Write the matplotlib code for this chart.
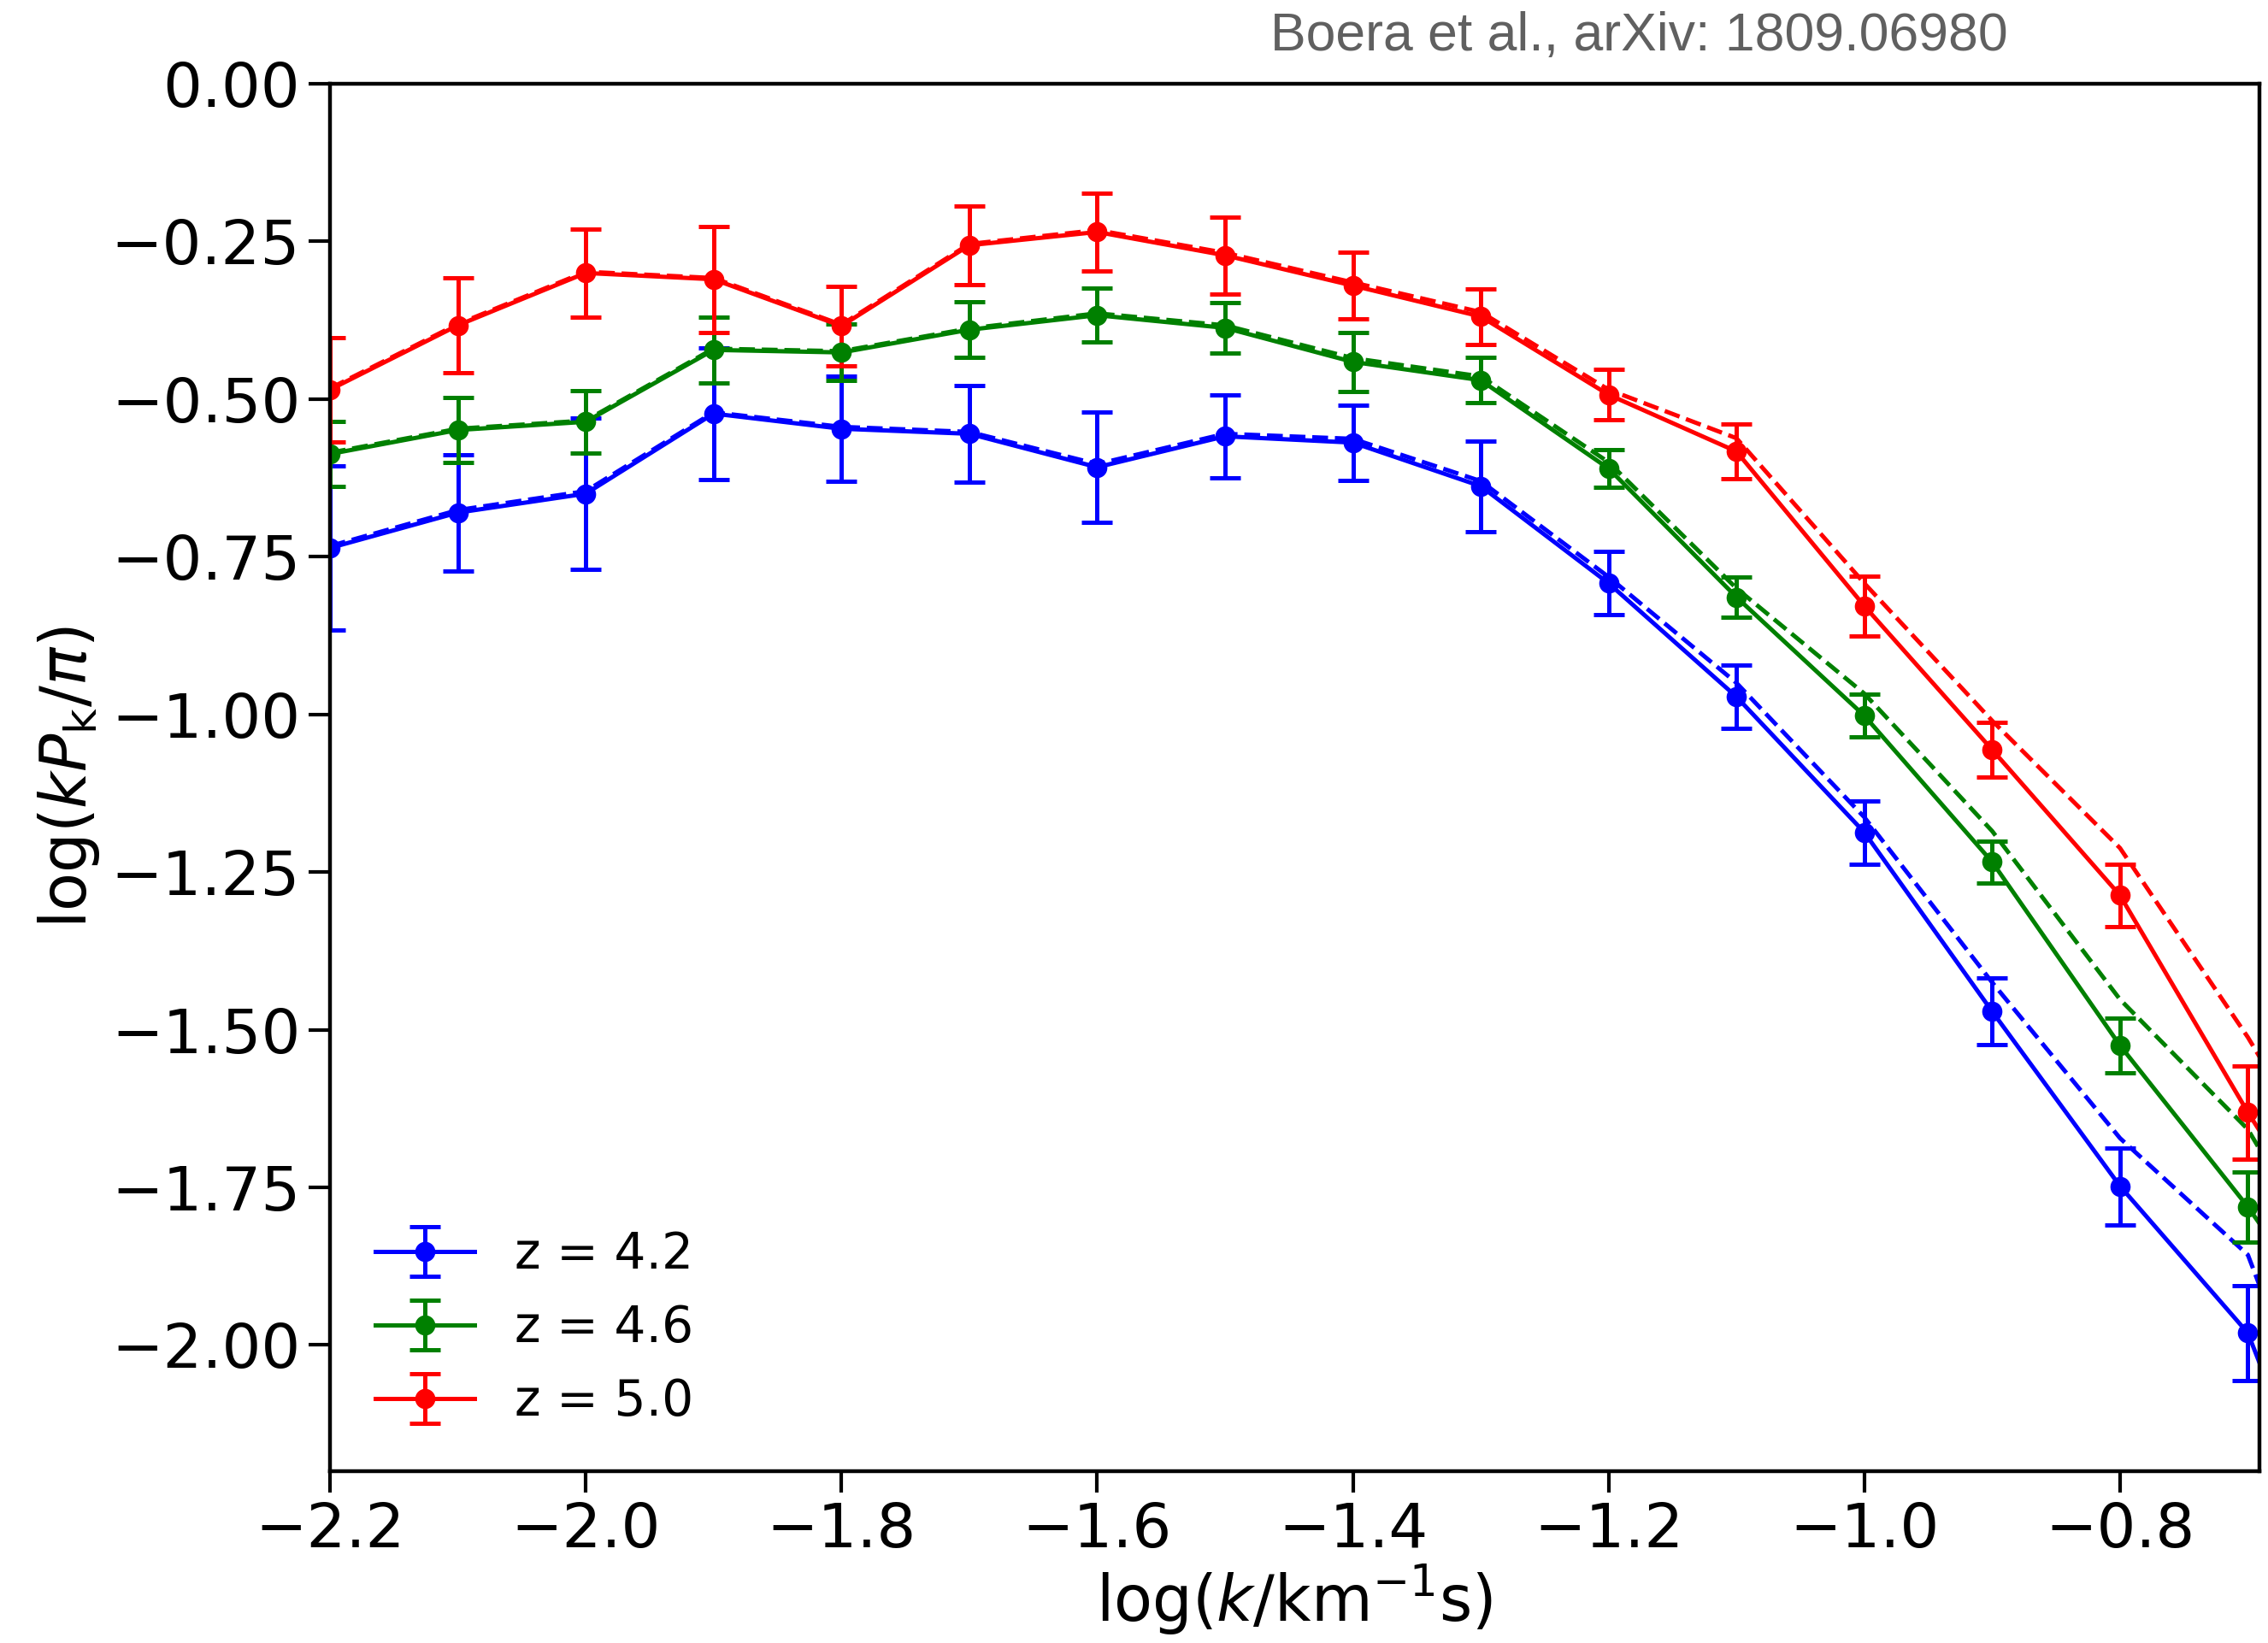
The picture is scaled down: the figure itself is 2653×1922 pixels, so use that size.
"""
Flux power spectrum of the Lyman-alpha forest at three redshifts,
measurements with error bars plus the model curves (dashed).
"""

import matplotlib
matplotlib.use('Agg')
import matplotlib.pyplot as plt
from matplotlib.ticker import FuncFormatter
import numpy as np

# log(k / km^-1 s) bins
log_k = [-2.2, -2.1, -2.0, -1.9, -1.8, -1.7, -1.6, -1.5, -1.4, -1.3,
         -1.2, -1.1, -1.0, -0.9, -0.8, -0.7, -0.6]

# measured log(k P_k / pi)
pk_z42 = [-0.736, -0.680, -0.650, -0.523, -0.547, -0.555, -0.608, -0.559, -0.569, -0.638,
          -0.792, -0.972, -1.187, -1.471, -1.748, -1.981, -2.50]
pk_z46 = [-0.587, -0.549, -0.536, -0.422, -0.426, -0.390, -0.367, -0.387, -0.441, -0.470,
          -0.610, -0.814, -1.002, -1.234, -1.525, -1.781, -2.07]
pk_z50 = [-0.485, -0.383, -0.300, -0.310, -0.384, -0.256, -0.235, -0.272, -0.320, -0.369,
          -0.493, -0.583, -0.828, -1.056, -1.287, -1.631, -1.95]

# 1-sigma errors
err_z42 = [0.130, 0.092, 0.120, 0.104, 0.083, 0.077, 0.087, 0.066, 0.060, 0.072,
           0.050, 0.050, 0.050, 0.053, 0.061, 0.075, 0.090]
err_z46 = [0.052, 0.052, 0.050, 0.052, 0.045, 0.044, 0.043, 0.040, 0.047, 0.036,
           0.030, 0.032, 0.034, 0.033, 0.043, 0.056, 0.070]
err_z50 = [0.083, 0.075, 0.070, 0.084, 0.063, 0.062, 0.062, 0.061, 0.053, 0.044,
           0.040, 0.043, 0.047, 0.044, 0.050, 0.074, 0.090]

# model curves
model_z42 = [-0.733, -0.676, -0.646, -0.521, -0.544, -0.552, -0.603, -0.555, -0.563, -0.630,
             -0.782, -0.950, -1.163, -1.425, -1.672, -1.857, -2.39]
model_z46 = [-0.585, -0.547, -0.534, -0.420, -0.424, -0.388, -0.364, -0.383, -0.435, -0.464,
             -0.600, -0.800, -0.967, -1.185, -1.452, -1.658, -2.00]
model_z50 = [-0.483, -0.381, -0.298, -0.308, -0.382, -0.254, -0.232, -0.268, -0.315, -0.362,
             -0.485, -0.562, -0.792, -1.010, -1.212, -1.512, -1.85]

labels = ['z = 4.2', 'z = 4.6', 'z = 5.0']
colors = ['blue', 'green', 'red']

plt.rcParams['font.family'] = 'DejaVu Sans'
plt.rcParams['mathtext.fontset'] = 'dejavusans'


def minus_fmt(fmt):
    # tick labels with a proper minus sign
    return FuncFormatter(lambda v, pos: (fmt % v).replace('-', '\u2212'))


fig = plt.figure(figsize=(13.265, 9.61), dpi=200)
ax = fig.add_axes([0.1455, 0.1046, 0.8507, 0.8444])

data = [(pk_z42, err_z42, model_z42), (pk_z46, err_z46, model_z46), (pk_z50, err_z50, model_z50)]
for (pk, err, model), lab, col in zip(data, labels, colors):
    ax.plot(log_k, model, '--', color=col, lw=1.8)
    ax.errorbar(log_k, pk, yerr=err, color=col, fmt='-o', lw=1.8, ms=7.5,
                elinewidth=1.8, capsize=6.5, capthick=1.8, label=lab)

ax.set_xlim(-2.2, -0.691)
ax.set_ylim(-2.2, 0.0)
ax.set_xticks(np.round(np.arange(-2.2, -0.79, 0.2), 1))
ax.set_yticks(np.round(np.arange(-2.0, 0.01, 0.25), 2))
ax.xaxis.set_major_formatter(minus_fmt('%.1f'))
ax.yaxis.set_major_formatter(minus_fmt('%.2f'))

ax.tick_params(axis='both', which='major', labelsize=26, length=9, width=1.5)
for sp in ax.spines.values():
    sp.set_linewidth(1.6)

ax.set_xlabel(r'log($k$/km$^{-1}$s)', fontsize=26.5, labelpad=1)
ax.set_ylabel(r'log($kP_\mathrm{k}/\pi$)', fontsize=26.5, labelpad=4)

ax.legend(loc='lower left', frameon=False, fontsize=21, handlelength=2.0,
          borderaxespad=0.5)

fig.text(0.8855, 0.978, 'Boera et al., arXiv: 1809.06980', ha='right', va='center',
         fontsize=22.5, color='#606060', family='Liberation Sans')

fig.savefig('out.png', dpi=200)
